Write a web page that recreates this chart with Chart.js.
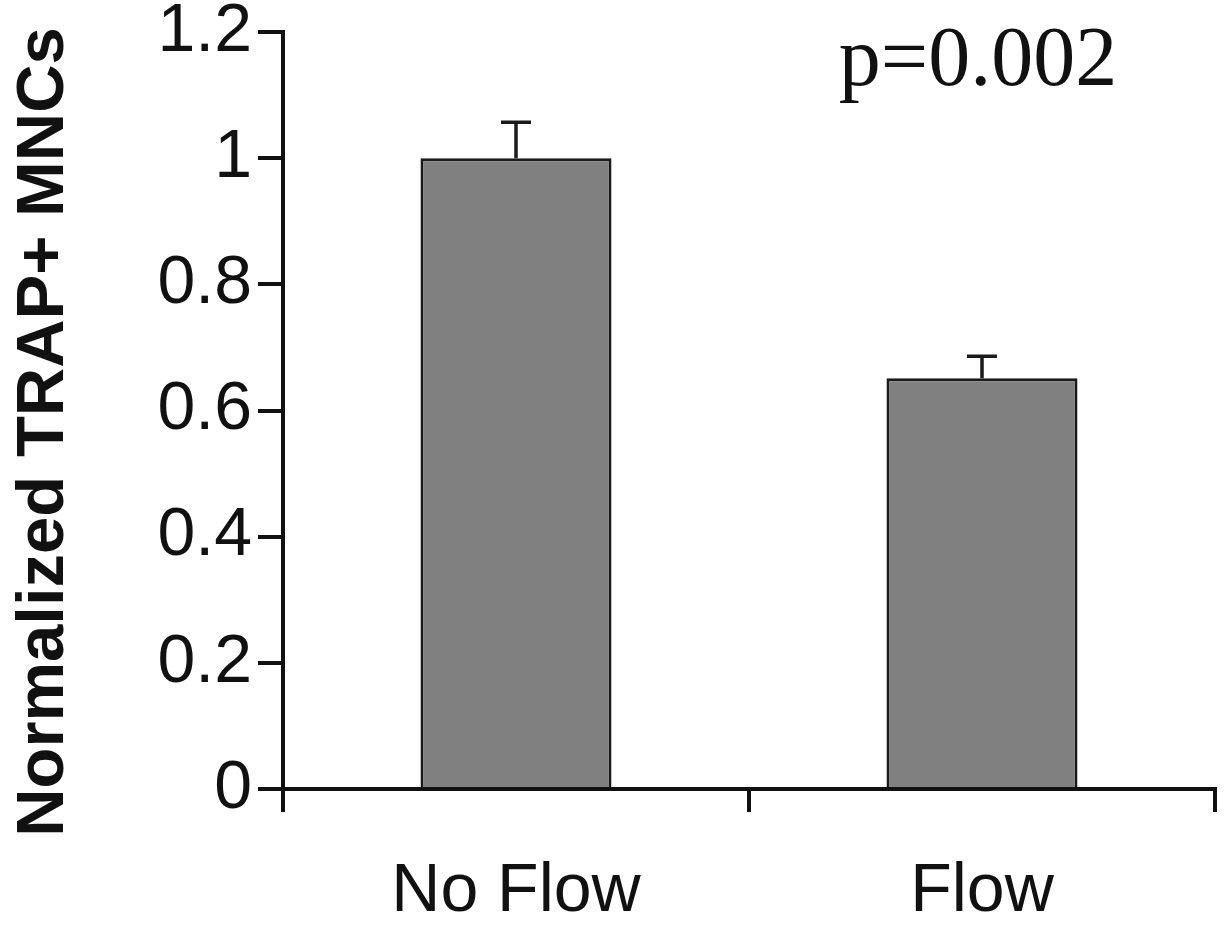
<!DOCTYPE html>
<html>
<head>
<meta charset="utf-8">
<script src="https://cdn.jsdelivr.net/npm/chart.js@4"></script>
<style>
  html, body { margin: 0; padding: 0; background: #fff; }
  #wrap { width: 1228px; height: 925px; }
</style>
</head>
<body>
<div id="wrap"><canvas id="chart" width="1228" height="925"></canvas></div>
<script>
// 数据
const categories = ['No Flow', 'Flow'];
const meanValues = [1.0, 0.651];
const errorValues = [0.057, 0.035];
const yTicks = [0, 0.2, 0.4, 0.6, 0.8, 1, 1.2];
const yTitle = 'Normalized TRAP+ MNCs';
const pLabel = 'p=0.002';

// 误差线 (只画上半部分)
const errorBars = {
    id: 'errorBars',
    afterDatasetsDraw(chart) {
        const ctx = chart.ctx;
        const y = chart.scales.y;
        const meta = chart.getDatasetMeta(0);
        ctx.save();
        ctx.strokeStyle = '#1a1a1a';
        ctx.lineWidth = 3.5;
        meta.data.forEach((bar, i) => {
            const top = y.getPixelForValue(meanValues[i] + errorValues[i]);
            const base = y.getPixelForValue(meanValues[i]);
            ctx.beginPath();
            ctx.moveTo(bar.x, base);
            ctx.lineTo(bar.x, top);
            ctx.moveTo(bar.x - 15, top);
            ctx.lineTo(bar.x + 15, top);
            ctx.stroke();
        });
        ctx.restore();
    }
};

// 纵轴标题和 p 值
const extraText = {
    id: 'extraText',
    afterDraw(chart) {
        const ctx = chart.ctx;
        const x = chart.scales.x;
        const y = chart.scales.y;
        ctx.save();
        ctx.fillStyle = '#111';
        ctx.font = 'bold 67px "Liberation Sans", Arial, sans-serif';
        ctx.textAlign = 'center';
        ctx.textBaseline = 'middle';
        ctx.translate(45, 432);
        ctx.rotate(-Math.PI / 2);
        ctx.fillText(yTitle, 0, 0);
        ctx.restore();

        ctx.save();
        ctx.fillStyle = '#111';
        ctx.font = '84px "Liberation Serif", "Times New Roman", serif';
        ctx.textAlign = 'center';
        ctx.textBaseline = 'alphabetic';
        ctx.fillText(pLabel, x.getPixelForValue(1) - 4, y.getPixelForValue(1.116));
        ctx.restore();
    }
};

new Chart(document.getElementById('chart'), {
    type: 'bar',
    data: {
        labels: categories,
        datasets: [{
            data: meanValues,
            backgroundColor: '#808080',
            borderColor: '#1a1a1a',
            borderWidth: 3,
            barPercentage: 0.41,
            categoryPercentage: 1
        }]
    },
    options: {
        responsive: false,
        animation: false,
        layout: { padding: { top: 32, right: 13, left: 0, bottom: 0 } },
        plugins: {
            legend: { display: false },
            tooltip: { enabled: false }
        },
        scales: {
            x: {
                offset: true,
                grid: {
                    offset: true,
                    drawOnChartArea: false,
                    color: '#111',
                    lineWidth: 4,
                    tickLength: 23
                },
                border: { color: '#111', width: 4 },
                ticks: {
                    color: '#111',
                    padding: 39,
                    font: { family: '"Liberation Sans", Arial, sans-serif', size: 68 }
                },
                afterFit(scale) {
                    scale.height = 136;
                    scale.paddingLeft = 0;
                    scale.paddingRight = 0;
                }
            },
            y: {
                min: 0,
                max: 1.2,
                afterBuildTicks(scale) {
                    scale.ticks = yTicks.map(v => ({ value: v }));
                },
                grid: {
                    drawOnChartArea: false,
                    color: '#111',
                    lineWidth: 4,
                    tickLength: 25
                },
                border: { color: '#111', width: 4 },
                ticks: {
                    color: '#111',
                    padding: 6,
                    font: { family: '"Liberation Sans", Arial, sans-serif', size: 68 },
                    callback: v => String(Math.round(v * 10) / 10)
                },
                afterFit(scale) {
                    scale.width = 283;
                    scale.paddingTop = 0;
                    scale.paddingBottom = 0;
                }
            }
        }
    },
    plugins: [errorBars, extraText]
});
</script>
</body>
</html>
